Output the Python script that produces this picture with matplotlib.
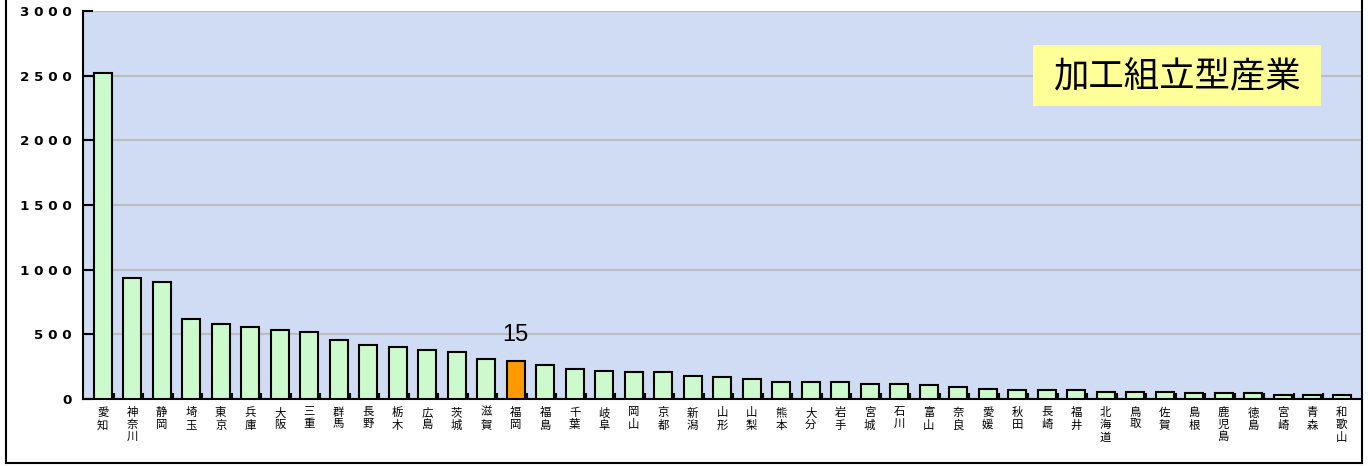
import matplotlib
matplotlib.use("Agg")
import matplotlib.pyplot as plt
from matplotlib.patches import Rectangle
from matplotlib.lines import Line2D

prefectures = ["愛知", "神奈川", "静岡", "埼玉", "東京", "兵庫", "大阪", "三重", "群馬", "長野",
               "栃木", "広島", "茨城", "滋賀", "福岡", "福島", "千葉", "岐阜", "岡山", "京都",
               "新潟", "山形", "山梨", "熊本", "大分", "岩手", "宮城", "石川", "富山", "奈良",
               "愛媛", "秋田", "長崎", "福井", "北海道", "鳥取", "佐賀", "島根", "鹿児島", "徳島",
               "宮崎", "青森", "和歌山"]
values = [2520, 935, 903, 615, 578, 554, 530, 516, 455, 414,
          404, 378, 362, 306, 290, 266, 230, 215, 206, 206,
          180, 168, 155, 130, 132, 132, 118, 118, 105, 93,
          80, 68, 68, 68, 55, 55, 55, 47, 47, 47,
          34, 34, 34]
highlight = "福岡"
highlight_label = "15"
y_ticks = [0, 500, 1000, 1500, 2000, 2500, 3000]
title_text = "加工組立型産業"

W, H = 1368, 466
fig = plt.figure(figsize=(W / 100, H / 100), dpi=100)
fig.patch.set_facecolor("white")

ax = fig.add_axes([83 / W, 1 - 399 / H, (1362 - 83) / W, (399 - 11) / H])
ax.set_facecolor("#D0DCF3")

n = len(prefectures)
x = list(range(n))
colors = ["#FF9900" if p == highlight else "#CCFACC" for p in prefectures]
ax.bar(x, values, width=0.61, color=colors, edgecolor="black", linewidth=1.5, zorder=3)

ax.set_xlim(-0.668, n - 1 + 0.69)
ax.set_ylim(0, 3000)

# gridlines
ax.set_yticks(y_ticks)
ax.yaxis.grid(True, color="#BEBEBE", linewidth=1.5, zorder=1)
ax.set_axisbelow(True)
ax.set_yticklabels([" ".join(str(v)) for v in y_ticks],
                   fontfamily="DejaVu Sans", fontweight="bold", fontsize=9.7)
ax.tick_params(axis="y", direction="in", length=7, width=1.5, pad=8)

# category labels (vertical stacking)
ax.set_xticks(x)
ax.set_xticklabels(["\n".join(p) for p in prefectures],
                   fontfamily=["Noto Sans CJK JP", "DejaVu Sans"], fontsize=8.2,
                   linespacing=1.18, va="top")
ax.tick_params(axis="x", which="major", length=0, pad=6)
ax.set_xticks([i + 0.38 for i in range(n - 1)], minor=True)
ax.tick_params(axis="x", which="minor", direction="in", length=4.5, width=1.5)

for s in ["top", "right"]:
    ax.spines[s].set_visible(False)
ax.spines["left"].set_linewidth(1.5)
ax.spines["bottom"].set_linewidth(1.5)

# highlight label
hi = prefectures.index(highlight)
ax.annotate(highlight_label, xy=(hi, values[hi]), xytext=(0, 19), textcoords="offset points",
            ha="center", va="center", fontfamily="Liberation Sans", fontsize=17, zorder=5)

# title box
fig.patches.append(Rectangle((1033 / W, 1 - 106 / H), 288 / W, 61 / H,
                             transform=fig.transFigure, facecolor="#FFFF99",
                             edgecolor="none", zorder=5))
fig.text(1177 / W, 1 - 77 / H, title_text, ha="center", va="center",
         fontfamily=["Noto Sans CJK JP", "DejaVu Sans"], fontsize=25.5, zorder=6)

# outer frame
for (x0, y0, x1, y1) in [(6, 0, 6, 463), (6, 463, 1362, 463), (1362, 0, 1362, 463)]:
    fig.lines.append(Line2D([x0 / W, x1 / W], [1 - y0 / H, 1 - y1 / H],
                            transform=fig.transFigure, color="black", linewidth=1.5))

fig.savefig("out.png", dpi=100)
